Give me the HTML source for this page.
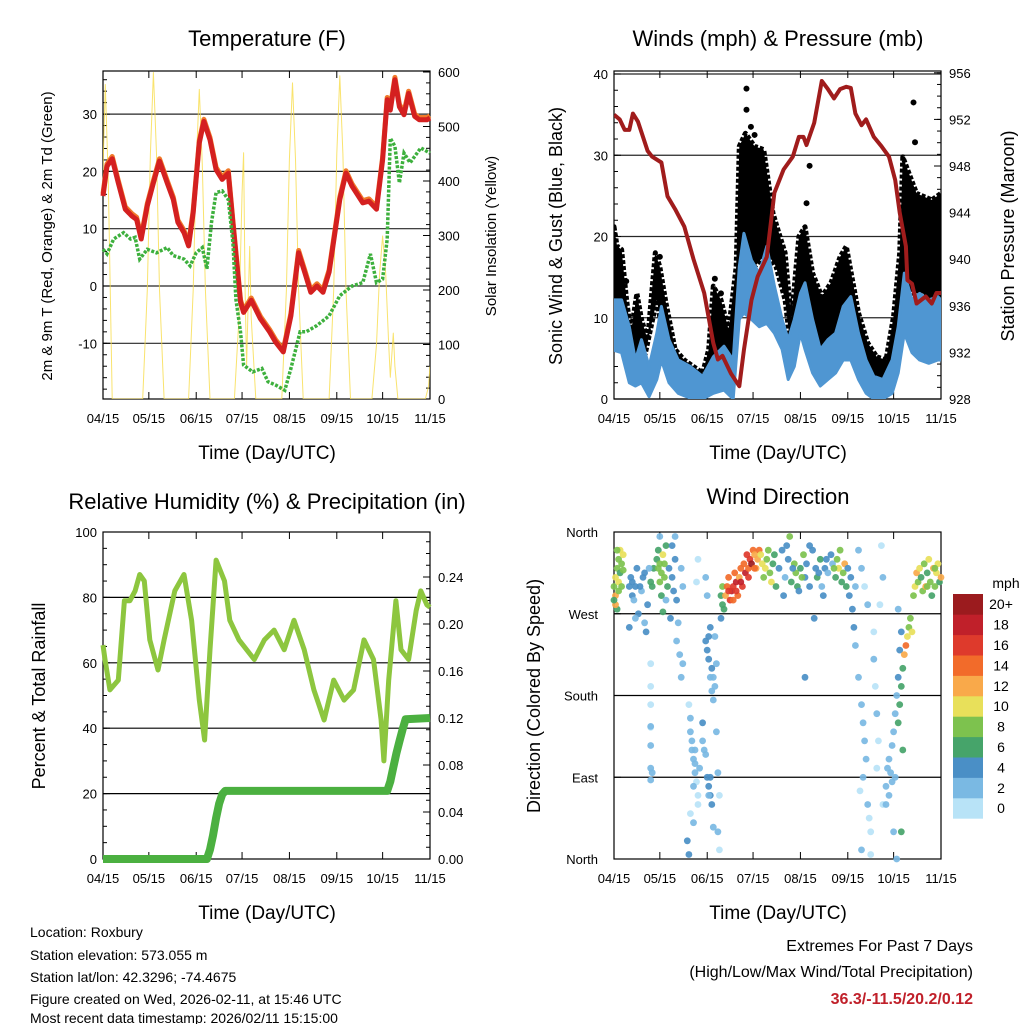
<!DOCTYPE html>
<html><head><meta charset="utf-8"><style>
html,body{margin:0;padding:0;background:#fff}
svg{display:block;font-family:"Liberation Sans",sans-serif}
</style></head><body>
<svg id="s" width="1024" height="1024" viewBox="0 0 1024 1024" xmlns="http://www.w3.org/2000/svg">
<rect width="1024" height="1024" fill="#fff"/>
<g id="g1"></g>
<g id="g2"></g>
<g id="g3"></g>
<g id="g4"></g>
<text x="267" y="46" font-size="22" text-anchor="middle">Temperature (F)</text>
<text x="778" y="46" font-size="22" text-anchor="middle">Winds (mph) &amp; Pressure (mb)</text>
<text x="267" y="509" font-size="22" text-anchor="middle">Relative Humidity (%) &amp; Precipitation (in)</text>
<text x="778" y="504" font-size="22" text-anchor="middle">Wind Direction</text>
<text x="267" y="459" font-size="19" text-anchor="middle">Time (Day/UTC)</text>
<text x="778" y="459" font-size="19" text-anchor="middle">Time (Day/UTC)</text>
<text x="267" y="919" font-size="19" text-anchor="middle">Time (Day/UTC)</text>
<text x="778" y="919" font-size="19" text-anchor="middle">Time (Day/UTC)</text>
<text transform="translate(52,236) rotate(-90)" font-size="15" text-anchor="middle">2m &amp; 9m T (Red, Orange) &amp; 2m Td (Green)</text>
<text transform="translate(496,236) rotate(-90)" font-size="15" text-anchor="middle">Solar Insolation (Yellow)</text>
<text transform="translate(562,236) rotate(-90)" font-size="18" text-anchor="middle">Sonic Wind &amp; Gust (Blue, Black)</text>
<text transform="translate(1014,236) rotate(-90)" font-size="18" text-anchor="middle">Station Pressure (Maroon)</text>
<text transform="translate(45,696) rotate(-90)" font-size="18" text-anchor="middle">Percent &amp; Total Rainfall</text>
<text transform="translate(540,696) rotate(-90)" font-size="18" text-anchor="middle">Direction (Colored By Speed)</text>
<g font-size="14">
<text x="30" y="937">Location: Roxbury</text>
<text x="30" y="960">Station elevation: 573.055 m</text>
<text x="30" y="982">Station lat/lon: 42.3296; -74.4675</text>
<text x="30" y="1004">Figure created on Wed, 2026-02-11, at 15:46 UTC</text>
<text x="30" y="1024" dy="-1">Most recent data timestamp: 2026/02/11 15:15:00</text>
</g>
<g font-size="16" text-anchor="end">
<text x="973" y="951">Extremes For Past 7 Days</text>
<text x="973" y="977">(High/Low/Max Wind/Total Precipitation)</text>
<text x="973" y="1004" fill="#c0202a" font-weight="bold">36.3/-11.5/20.2/0.12</text>
</g>
</svg>
<script>
// ---------- data ----------
const monthDays=[0,30,61,91,122,153,183,214];
const monthLabels=["04/15","05/15","06/15","07/15","08/15","09/15","10/15","11/15"];
const tDays=[0,2.6,6,10,14.6,19,22,25,29,33,37,42,46,49,53,56,59,63,66,70,74,78,82,85,90,92,97,103,109,113,118,123,128,132,136,140,144,148,155,159,163,170,174,179,183,186,188,191,194,197,200,204,207,212,214];
const tVals=[15.7,20.9,22.2,18,13.4,12.2,11.6,8.2,14,18,21.8,18,15.1,11.1,9.3,7,12.8,25,28.7,25.5,20.3,18.6,19.7,11,-2.8,-4.6,-2.5,-5.7,-8,-9.8,-11.5,-5.2,5.8,2.4,-1.1,0,-1.1,2.4,15.1,19.7,17.4,14.5,14.8,13.4,22,32.5,30.7,36,31.3,29.9,33.6,29.6,29,29,29.3];
const tdDays=[0,2.6,7,13.5,18,21,24,29,35,42,46,53,57,61,65,68,71,74,78,82,85,87,90,92,98,104,108,113,119,123,129,133,140,148,155,163,170,175,179,183,186,188,191,194,197,201,208,214];
const tdVals=[6.4,5.6,8.2,9.3,8.2,8.5,4.7,6.4,5.8,6.7,5.3,4.7,3.5,5.8,6.7,3,11.1,16.3,16.6,15.1,7.6,-2.3,-8,-13.8,-15,-14.4,-16.7,-17.3,-18.2,-14.4,-8,-8,-6.9,-5.2,-1.7,0,0.6,5.6,0.6,1.2,8.2,25.8,24.4,18,23.2,21.5,24.1,23.2];
const solarDays=[0,1.5,3.5,6,26,29,31,33,35,37,40,56,59,61,63,65,67,70,86,89,91,92,93,94,95,96,97,100,117,120,122,124,126,128,131,148,151,153,155,157,159,162,176,179,181,183,185,187,188,190,191,193,208,211,213,214];
const solarVals=[420,577,400,0,0,200,450,599,450,200,0,0,200,430,568,430,200,0,0,150,380,452,200,60,180,280,150,0,0,200,440,580,440,200,0,0,200,450,593,450,200,0,0,100,230,299,230,100,40,121,60,0,0,0,23,60];
const presDays=[0,3.7,7,10,12.4,15.7,22,25,31,35,40,46,52,59,65,68,71,76.5,82,85,90,94,100,105,111,117,121,124,126,131,136,140,144,148,152,155,158,162,165,170,175,180,184,187,191,192,195,198,204,208,211,214];
const presVals=[952.4,952,951.1,951.1,952.5,951.8,949.3,948.8,948.3,945.4,944.3,942.8,940,937.1,932.8,931.4,931.7,930.2,929.1,932.2,936.5,938.5,940.2,945.7,947.7,948.8,950.5,950.5,949.8,951.7,955.3,954.6,953.8,954.6,954.8,954.7,952.5,951.5,952,950.5,949.7,948.8,946.8,944,941.1,938.2,937.9,936.2,936.8,936.2,937.1,937.1];
const windDays=[0,5,10,14,18,23,28,31,36,42,50,58,65,72,78,82,85,90,95,100,105,110,114,118,122,125,130,135,140,145,150,155,160,165,170,176,182,186,190,195,200,206,212,214];
const windHi=[12.2,12.2,8.9,4.8,7.3,4,8.1,11.4,7.3,4.8,4,2.8,5.2,6.5,4.8,16.3,20.4,17.1,15.5,18.8,13.9,9.8,7.3,9.8,13,14.3,9.8,6.1,7.3,8.1,11.4,12.6,8.1,4.8,2.8,2.4,4.8,8.9,15.5,12.2,13,12.2,12.6,12.2];
const windLo=[6,5.7,2,1.6,2,0.3,2.4,4.8,2,0.7,0.1,0,0.7,1.1,0,9.8,10.6,9.8,8.9,9.3,8.1,6.1,2.4,4,8.1,6.1,3.2,1.6,2.4,3.2,4.8,4.8,2.4,0.7,0,0,0.7,3.2,8.1,5.7,4.8,4.4,4.8,4.8];
const gustHiDays=[0,2,5,8,11,15,18,22,27,30,34,40,46,52,58,62,65,70,75,80,82,86,92,98,104,108,112,116,121,125,130,136,142,148,152,156,160,166,172,178,183,187,189,193,198,203,208,214];
const gustHi=[21.2,18.8,18.4,12.6,8.1,13,9.8,7.3,18,16.3,11.8,6.1,4.8,4,3.2,6.1,13.9,12.2,8.5,16.3,31.1,32.7,31.1,30.7,22.9,20.4,18,9.8,20,21.2,15.5,12.6,14.3,17.5,18.8,14.7,10.6,6.9,5.2,4.8,10.2,18,29.8,27.8,25.3,24.9,24.5,25.3];
const gustLoDays=[0,5,10,14,20,28,34,42,50,58,65,72,78,82,86,92,100,106,112,116,122,128,134,140,146,152,158,164,170,176,182,186,190,196,202,208,214];
const gustLo=[11.4,12.2,6.1,4.8,5.2,12.2,5.7,2.8,2.4,2,4.4,4,4,12.2,18,16.3,18,16.3,12.2,5.7,10.6,11.4,6.1,6.5,7.3,9.8,7.3,4.4,2.4,2,4,8.1,13.9,13,13,12.2,12.2];
const gustOutDays=[86.7,86.7,89.6,92,128,126,196,197,8,30,66,70];
const gustOutVals=[38.2,35.6,33.5,32.5,28.7,24.1,36.5,31.6,14.5,17.5,14.8,13];
const rhDays=[0,1.3,4.5,10,14,17.6,21,24,27,30.6,36,40,47,53,58,63,66.5,70,74,79.5,83,89,99,105.6,112,118.6,125,131.7,138,144.7,151,157.8,164,170.8,177,182,183.8,187,191.7,195,200,205,208,212,214];
const rhVals=[65.4,61,51.7,54.7,79,79,82,87,85,67,57.8,67,82,87,73,48.6,36.4,64,91.4,85,73,67,61,67,70,64,73,64,51.7,42.5,54.7,48.6,51.7,67,61,42.5,30,54.7,79,64,61,76,82,77.7,77];
const prDays=[0,68,70,72,74,76,78,80,186,188,190,192,194,196,198,214];
const prVals=[0,0,0.008,0.02,0.035,0.047,0.055,0.058,0.058,0.066,0.078,0.09,0.1,0.11,0.119,0.12];
// wind direction points: [day, direction (deg), speed (mph)]
const dirPoints=[
[0,300,8],[1,310,10],[1,290,12],[2,320,9],[3,330,8],[3,305,10],[4,315,6],[5,325,9],[2,275,6],[1,280,12],[4,340,10],[5,300,8],[6,318,9],[6,335,10],[0,285,7],[2,340,8],[3,295,9],
[10,300,4],[11,310,4],[12,290,5],[13,285,3],[14,300,4],[15,320,5],[16,270,4],[18,295,3],[19,310,4],[20,260,3],[21,250,4],[22,280,5],[24,305,6],[25,300,7],[26,320,7],[10,255,4],[14,265,3],[23,320,3],[12,305,4],[17,300,5],[20,315,4],
[24,215,1],[24,190,1],[24,170,1],[24,145,1],[24,125,3],[24,100,3],[24,87,2],[24,146,3],[25,95,3],
[28,330,7],[29,340,6],[30,325,8],[31,315,9],[32,335,10],[33,310,8],[34,345,7],[35,300,7],[30,305,9],[31,290,6],[36,320,4],[38,310,4],[39,295,4],[40,330,4],[41,285,4],[37,265,4],[32,272,7],[34,285,3],[38,345,4],[30,355,3],[40,355,2],[33,325,9],[29,320,8],
[41,240,2],[43,225,2],[44,200,3],[45,215,3],[42,260,3],[45,300,2],[44,320,2],
[49,170,1],[50,140,2],[51,130,2],[52,110,2],[53,95,2],[54,85,1],[52,80,2],[55,70,1],[50,155,2],[53,120,2],[56,100,2],[48,20,4],[49,5,4],[50,50,1],[52,40,2],[55,60,1],[54,305,1],[55,330,1],[51,120,2],[53,105,2],
[58,150,4],[59,120,3],[60,115,2],[61,90,4],[62,80,4],[63,70,5],[64,60,4],[65,35,2],[58,130,2],[60,240,4],[61,230,4],[62,220,4],[63,200,3],[64,185,3],[65,175,2],[66,190,2],[67,215,2],[66,245,3],[63,255,5],[62,245,5],[64,210,4],[60,310,2],[61,290,2],[67,140,2],[68,95,2],[69,70,1],[69,10,1],[68,30,2],[62,70,3],[63,90,4],[65,200,2],
[70,265,5],[70,290,6],[71,280,7],[71,300,8],[72,275,7],
[73,290,12],[74,300,14],[75,310,14],[76,285,16],[77,295,18],[78,300,16],[79,315,14],[80,305,18],[81,290,15],[82,310,12],[83,320,14],[84,300,16],[85,325,14],[86,315,18],[87,335,16],[88,320,14],[89,330,16],[90,325,20],[91,340,14],[92,335,12],[93,320,12],[94,330,12],[95,340,14],[96,335,10],[97,325,10],[98,310,9],[99,320,11],[100,330,8],[101,340,8],[102,315,9],[103,305,10],[104,325,6],[105,335,7],[106,300,7],[75,295,16],[78,285,14],[80,295,16],[83,305,18],[88,310,16],[92,320,14],
[108,320,5],[110,340,4],[112,310,3],[114,330,4],[116,305,7],[118,325,8],[119,315,9],[120,300,6],[122,320,7],[124,335,8],[125,310,4],[126,325,5],[128,300,5],[130,340,4],[132,320,4],[133,310,7],[135,330,6],[136,300,3],[138,320,4],[140,315,3],[142,335,4],[143,325,3],[145,310,7],[146,330,9],[147,320,10],[148,340,8],[149,305,6],[150,315,9],[151,325,12],[152,300,6],[153,320,4],[154,290,5],[155,310,4],[156,275,4],[157,255,4],[158,300,3],[113,345,4],[121,295,4],[137,290,4],[128,345,5],[131,265,4],[125,200,4],[111,290,5],[115,355,8],[117,320,4],[123,310,8],[134,315,5],[139,330,4],[144,320,8],
[160,340,2],[162,320,2],[164,300,1],[166,280,2],[158,235,2],[160,200,2],[162,170,3],[163,150,3],[164,130,3],[165,110,2],[163,90,2],[161,75,1],[166,60,2],[167,45,1],[168,30,1],[162,10,2],[168,5,1],[170,220,2],[171,190,1],[172,160,2],[173,130,1],[170,250,1],[174,280,1],[176,310,2],[175,345,1],[172,100,1],[176,60,1],
[178,80,2],[179,100,2],[180,110,2],[181,95,3],[182,125,3],[183,140,2],[184,160,3],[185,180,3],[186,200,4],[187,230,4],[188,250,4],[178,60,2],[180,70,2],[183,30,3],[185,0,2],[186,150,6],[187,170,6],[188,190,6],[189,210,7],[190,225,12],[191,235,14],[192,245,10],[193,255,8],[194,265,8],[195,250,10],[189,120,6],[188,30,6],[186,275,3],[182,85,2],[184,90,3],
[196,290,8],[197,300,10],[198,315,12],[199,305,8],[200,320,10],[201,310,6],[202,295,9],[203,325,8],[204,300,12],[205,315,7],[206,330,10],[207,305,9],[208,290,6],[209,320,12],[210,300,8],[211,315,11],[212,325,10],[213,305,6],[214,310,12],[205,300,8],[210,320,9]
];
const cbLabels=["0","2","4","6","8","10","12","14","16","18","20+"];
const cbColors=["#b8e3f7","#7ab9e3","#4a8fc6","#46a46a","#7dc24e","#e8e05a","#f9a94a","#f26b2a","#de3a2c","#c0202a","#9b1b1e"];

// ---------- helpers ----------
const NS="http://www.w3.org/2000/svg";
function mk(parent,tag,attrs){const e=document.createElementNS(NS,tag);for(const k in attrs)e.setAttribute(k,attrs[k]);parent.appendChild(e);return e;}
function lin(d0,d1,r0,r1){return v=>r0+(v-d0)/(d1-d0)*(r1-r0);}
function pts(xs,ys,fx,fy){return xs.map((d,i)=>fx(d).toFixed(1)+","+fy(ys[i]).toFixed(1)).join(" ");}
function txt(parent,x,y,s,size,anchor){const t=mk(parent,"text",{x:x,y:y,"font-size":size,"text-anchor":anchor||"middle"});t.textContent=s;return t;}

function frame(g,L,R,T,B,fx){
  monthDays.forEach((d,i)=>{
    const x=fx(d);
    const tk=mk(g,"line",{x1:x,x2:x,y1:B,y2:B-7,stroke:"#000","stroke-width":1});
    
    
    mk(g,"line",{x1:x,x2:x,y1:T,y2:T+7,stroke:"#000","stroke-width":1});
    const t=txt(g,x,B+24,monthLabels[i],13);
    
    
  });
}
function yaxis(g,L,R,side,vals,labels,fy,minors,grid,off){
  const X=side==="l"?L:R, dir=side==="l"?1:-1;
  minors.forEach(v=>{mk(g,"line",{x1:X,x2:X+dir*4,y1:fy(v),y2:fy(v),stroke:"#000","stroke-width":1});});
  vals.forEach((v,i)=>{
    const y=fy(v);
    if(grid) mk(g,"line",{x1:L,x2:R,y1:y,y2:y,stroke:"#000","stroke-width":1.2,"stroke-opacity":0.85});
    mk(g,"line",{x1:X,x2:X+dir*7,y1:y,y2:y,stroke:"#000","stroke-width":1});
    const t=txt(g,side==="l"?X-(off||5):X+(off||6),y+5,labels[i],13,side==="l"?"end":"start");
    
    
  });
}
function rng(a,b,s){const r=[];for(let v=a;v<=b+1e-9;v+=s)r.push(+v.toFixed(4));return r;}

// ---------- Panel 1: Temperature ----------
(function(){
  const g=document.getElementById("g1");
  const L=103,R=430,T=71,B=399;
  const fx=lin(0,214,L,R), fT=v=>286-5.73*v, fS=lin(0,600,B,72);
  mk(g,"rect",{x:L,y:T,width:R-L,height:B-T,fill:"none",stroke:"#000","stroke-width":1.2});
  yaxis(g,L,R,"l",[-10,0,10,20,30],["-10","0","10","20","30"],fT,rng(-18,36,2),true,6);
  yaxis(g,L,R,"r",[0,100,200,300,400,500,600],["0","100","200","300","400","500","600"],fS,rng(0,600,20),false,8);
  frame(g,L,R,T,B,fx);
  const cp=mk(g,"clipPath",{id:"c1"});mk(cp,"rect",{x:L,y:T,width:R-L,height:B-T});
  const solar=mk(g,"polyline",{points:pts(solarDays,solarVals,fx,fS),fill:"none",stroke:"#f7dc4a","stroke-width":1,"stroke-opacity":0.8,"stroke-linejoin":"round","clip-path":"url(#c1)"});
  
  const or=mk(g,"polyline",{points:pts(tDays,tVals.map(v=>v+0.4),fx,fT),fill:"none",stroke:"#f07a2a","stroke-width":5,"stroke-linejoin":"round"});
  
  const rd=mk(g,"polyline",{points:pts(tDays,tVals,fx,fT),fill:"none",stroke:"#d42020","stroke-width":5,"stroke-linejoin":"round"});
  
  const gr=mk(g,"polyline",{points:pts(tdDays,tdVals,fx,fT),fill:"none",stroke:"#3db03d","stroke-width":3.5,"stroke-dasharray":"3 1.6"});
  
})();

// ---------- Panel 2: Winds ----------
(function(){
  const g=document.getElementById("g2");
  const L=614,R=941,T=71,B=399;
  const fx=lin(0,214,L,R), fW=v=>399-8.125*v, fP=p=>399-(p-928)*11.65;
  mk(g,"rect",{x:L,y:T,width:R-L,height:B-T,fill:"none",stroke:"#000","stroke-width":1.2});
  yaxis(g,L,R,"l",[0,10,20,30,40],["0","10","20","30","40"],fW,rng(0,40,2),true,6);
  yaxis(g,L,R,"r",[928,932,936,940,944,948,952,956],["928","932","936","940","944","948","952","956"],fP,rng(928,956,1),false,8);
  frame(g,L,R,T,B,fx);
  const cp=mk(g,"clipPath",{id:"c2"});mk(cp,"rect",{x:L,y:T,width:R-L,height:B-T});
  const up=gustHiDays.map((d,i)=>fx(d).toFixed(1)+","+fW(gustHi[i]).toFixed(1));
  const lo=gustLoDays.map((d,i)=>fx(d).toFixed(1)+","+fW(gustLo[i]).toFixed(1)).reverse();
  const gb=mk(g,"polygon",{points:up.concat(lo).join(" "),fill:"#000",stroke:"#000","stroke-width":5,"stroke-linejoin":"round","stroke-dasharray":"4 2","clip-path":"url(#c2)"});
  
  gustOutDays.forEach((d,i)=>{
    const c=mk(g,"circle",{cx:fx(d),cy:fW(gustOutVals[i]),r:3,fill:"#000"});
    
    
  });
  const wu=windDays.map((d,i)=>fx(d).toFixed(1)+","+fW(windHi[i]).toFixed(1));
  const wl=windDays.map((d,i)=>fx(d).toFixed(1)+","+fW(windLo[i]).toFixed(1)).reverse();
  const wb=mk(g,"polygon",{points:wu.concat(wl).join(" "),fill:"#4f96d2",stroke:"#4f96d2","stroke-width":3,"stroke-linejoin":"round","clip-path":"url(#c2)"});
  
  const pl=mk(g,"polyline",{points:pts(presDays,presVals,fx,fP),fill:"none",stroke:"#a01c1c","stroke-width":4,"stroke-linejoin":"round","clip-path":"url(#c2)"});
  
})();

// ---------- Panel 3: RH & precip ----------
(function(){
  const g=document.getElementById("g3");
  const L=103,R=430,T=532,B=859;
  const fx=lin(0,214,L,R), fH=v=>859-3.27*v, fR=v=>859-v*1175;
  mk(g,"rect",{x:L,y:T,width:R-L,height:B-T,fill:"none",stroke:"#000","stroke-width":1.2});
  yaxis(g,L,R,"l",[0,20,40,60,80,100],["0","20","40","60","80","100"],fH,rng(0,100,5),false,6);
  [20,40,60,80].forEach(v=>mk(g,"line",{x1:L,x2:R,y1:fH(v),y2:fH(v),stroke:"#000","stroke-width":1.2}));
  yaxis(g,L,R,"r",[0,0.04,0.08,0.12,0.16,0.20,0.24],["0.00","0.04","0.08","0.12","0.16","0.20","0.24"],fR,rng(0,0.27,0.01),false,8);
  frame(g,L,R,T,B,fx);
  const rh=mk(g,"polyline",{points:pts(rhDays,rhVals,fx,fH),fill:"none",stroke:"#8dc63f","stroke-width":5,"stroke-linejoin":"round"});
  
  const pr=mk(g,"polyline",{points:pts(prDays,prVals,fx,fR),fill:"none",stroke:"#4bb040","stroke-width":8,"stroke-linejoin":"round"});
  
})();

// ---------- Panel 4: Wind direction ----------
(function(){
  const g=document.getElementById("g4");
  const L=614,R=941,T=532,B=859;
  const fx=lin(0,214,L,R), fD=d=>859-d*327/360;
  mk(g,"rect",{x:L,y:T,width:R-L,height:B-T,fill:"none",stroke:"#000","stroke-width":1.2});
  [0,90,180,270,360].forEach((v,i)=>{
    const y=fD(v);
    if(i>0&&i<4) mk(g,"line",{x1:L,x2:R,y1:y,y2:y,stroke:"#000","stroke-width":1.2});
    mk(g,"line",{x1:L,x2:L+7,y1:y,y2:y,stroke:"#000"});
    const t=txt(g,L-16,y+5,["North","East","South","West","North"][i],13,"end");
    
    
  });
  frame(g,L,R,T,B,fx);
  dirPoints.forEach(p=>{
    const k=Math.max(0,Math.min(10,Math.floor(p[2]/2)));
    const c=mk(g,"circle",{cx:fx(p[0]).toFixed(1),cy:fD(p[1]).toFixed(1),r:3.4,fill:cbColors[k],"fill-opacity":0.92});
    
    
  });
  const cb=mk(g,"g",{});
  
  
  const bh=20.4, top=594;
  cbLabels.forEach((lab,i)=>{
    const y=top+(10-i)*bh;
    mk(cb,"rect",{x:953,y:y,width:30,height:bh+0.3,fill:cbColors[i]});
    txt(cb,1001,y+bh/2+5,lab,14);
  });
  txt(cb,1006,588,"mph",14);
})();
</script>
</body></html>
